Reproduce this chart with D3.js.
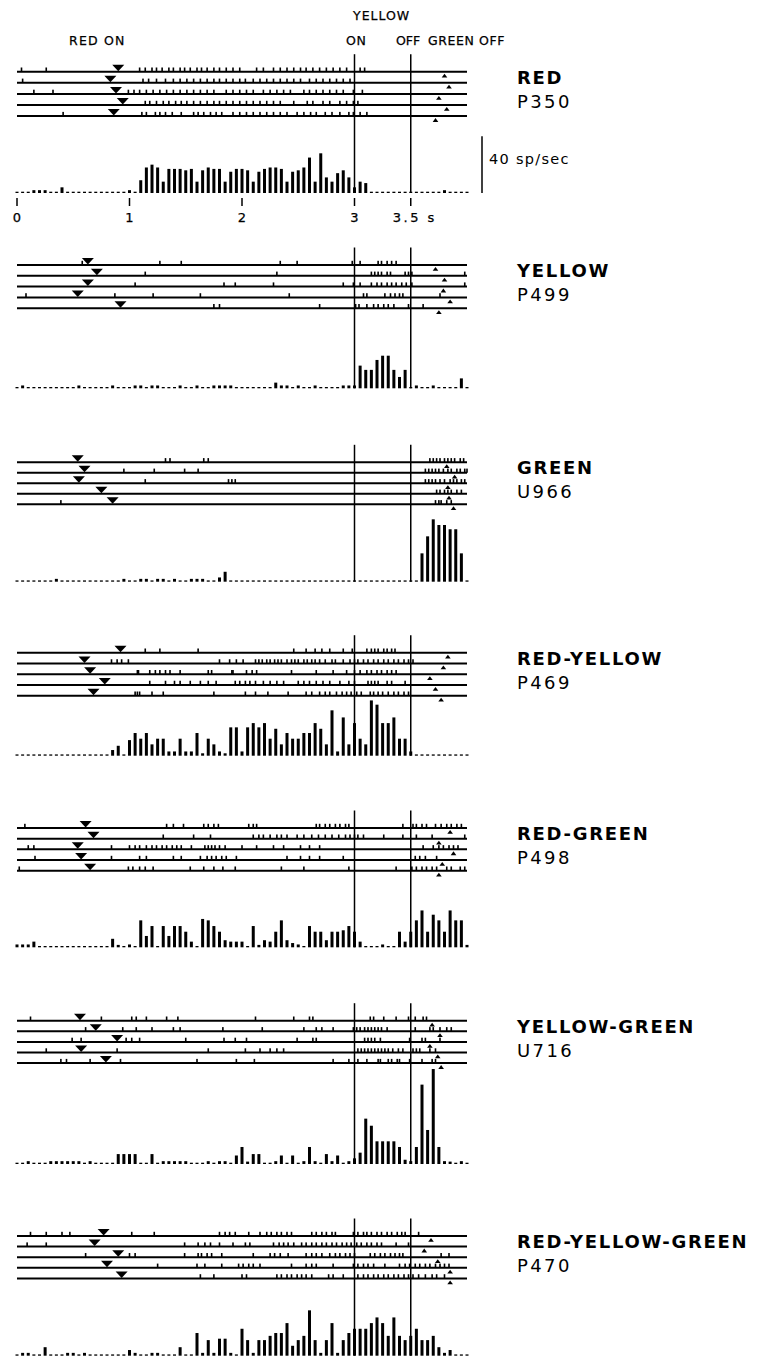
<!DOCTYPE html>
<html><head><meta charset="utf-8">
<script src="https://cdn.jsdelivr.net/npm/d3@7"></script>
<style>
body{margin:0;background:#fff}
svg{display:block}
text{font-family:"DejaVu Sans",sans-serif;fill:#000}
</style>
</head><body>
<svg id="c" width="770" height="1360"></svg>
<script>
// ---------------- DATA ----------------
const binWidth = 0.05;               // s
const tickValues = [0, 1, 2, 3, 3.5];
const tickLabels = ["0", "1", "2", "3", "3.5 s"];
const eventTimes = [3.0, 3.5];       // yellow on / off
const scaleBarValue = 40;            // sp/sec
const scaleBarLabel = "40 sp/sec";
const topLabels = ["RED ON", "YELLOW", "ON", "OFF", "GREEN OFF"];

const panelNames = ["RED", "YELLOW", "GREEN", "RED-YELLOW", "RED-GREEN", "YELLOW-GREEN", "RED-YELLOW-GREEN"];
const panelIds = ["P350", "P499", "U966", "P469", "P498", "U716", "P470"];

// trial onset markers (down triangles) and offset markers (up triangles), seconds
const onsetMarks = [
  [0.90, 0.83, 0.88, 0.94, 0.86],
  [0.63, 0.71, 0.63, 0.54, 0.92],
  [0.54, 0.60, 0.55, 0.75, 0.85],
  [0.92, 0.60, 0.65, 0.78, 0.68],
  [0.61, 0.68, 0.54, 0.57, 0.65],
  [0.56, 0.70, 0.89, 0.57, 0.79],
  [0.77, 0.69, 0.90, 0.80, 0.93]
];
const offsetMarks = [
  [3.80, 3.84, 3.75, 3.82, 3.72],
  [3.72, 3.80, 3.79, 3.85, 3.75],
  [3.82, 3.89, 3.83, 3.84, 3.88],
  [3.83, 3.79, 3.67, 3.72, 3.77],
  [3.85, 3.75, 3.88, 3.78, 3.75],
  [3.69, 3.76, 3.67, 3.74, 3.77],
  [3.68, 3.62, 3.74, 3.85, 3.85]
];

// spike times (s), 5 trials per panel
const spikesRed = [
  [0.04,0.26,1.09,1.14,1.20,1.24,1.29,1.35,1.39,1.45,1.49,1.54,1.60,1.64,1.69,1.75,1.80,1.86,1.92,1.98,2.13,2.19,2.28,2.34,2.40,2.46,2.52,2.57,2.63,2.69,2.75,2.81,2.87,2.93,3.05,3.09],
  [0.05,1.12,1.17,1.24,1.32,1.39,1.45,1.51,1.57,1.63,1.69,1.75,1.80,1.86,1.92,1.98,2.03,2.10,2.16,2.22,2.28,2.34,2.40,2.46,2.52,2.60,2.66,2.72,2.78,2.84,2.90,2.96],
  [0.15,0.32,0.99,1.04,1.09,1.15,1.21,1.27,1.33,1.39,1.45,1.51,1.57,1.63,1.69,1.75,1.86,1.92,1.98,2.04,2.10,2.19,2.25,2.31,2.37,2.43,2.55,2.60,2.66,2.72,2.78,2.84,2.90,2.99,3.07],
  [1.14,1.18,1.24,1.30,1.35,1.41,1.46,1.51,1.57,1.63,1.69,1.75,1.80,1.86,1.92,1.98,2.04,2.10,2.16,2.22,2.28,2.34,2.46,2.58,2.63,2.72,2.78,2.87,2.93,2.99,3.03],
  [0.41,1.11,1.15,1.23,1.27,1.32,1.38,1.46,1.57,1.61,1.66,1.72,1.77,1.82,1.92,1.98,2.04,2.10,2.16,2.22,2.28,2.34,2.40,2.49,2.55,2.61,2.66,2.74,2.80,2.87,2.95,2.99,3.05,3.11]
];
const spikesYellow = [
  [0.58,1.27,1.46,2.34,2.49,2.98,3.05,3.21,3.24,3.29,3.33,3.37],
  [1.14,2.31,3.15,3.18,3.21,3.24,3.29,3.32,3.45,3.48,3.51,3.98],
  [1.05,1.84,1.94,2.28,2.90,2.99,3.05,3.15,3.20,3.24,3.29,3.33,3.37,3.42,3.46,3.51,3.98],
  [0.08,0.87,1.21,1.63,2.42,3.08,3.11,3.27,3.32,3.36,3.40,3.43,3.76],
  [1.75,1.80,2.69,3.01,3.04,3.11,3.17,3.21,3.26,3.30,3.35,3.48,3.61]
];
const spikesGreen = [
  [1.32,1.36,1.66,1.70,3.67,3.70,3.73,3.76,3.80,3.83,3.86,3.89,3.94,3.97],
  [0.95,1.22,1.49,1.61,3.63,3.66,3.69,3.72,3.75,3.79,3.83,3.86,3.91,3.94,3.98,4.00],
  [1.14,1.88,1.91,1.94,3.63,3.66,3.69,3.72,3.76,3.80,3.85,3.88,3.91,3.95,3.98],
  [3.73,3.76,3.80,3.83,3.86,3.91,3.95],
  [0.39,3.72,3.75,3.77,3.82,3.86]
];
const spikesRedYellow = [
  [1.14,1.27,1.61,2.46,2.57,2.65,2.71,2.78,2.90,2.98,3.11,3.15,3.18,3.21,3.26,3.29,3.33,3.36],
  [0.84,0.89,0.93,0.99,1.80,1.89,1.95,2.01,2.12,2.15,2.18,2.22,2.25,2.29,2.32,2.35,2.40,2.44,2.47,2.50,2.55,2.58,2.62,2.65,2.69,2.74,2.80,2.83,2.90,2.96,3.00,3.03,3.08,3.12,3.17,3.21,3.26,3.30,3.35,3.39,3.44,3.48,3.52],
  [1.07,1.08,1.18,1.23,1.27,1.32,1.36,1.45,1.70,1.73,1.91,1.92,2.04,2.09,2.13,2.44,2.66,2.81,2.93,3.00,3.05,3.11,3.15,3.20,3.24,3.29,3.33,3.37],
  [1.18,1.32,1.40,1.45,1.54,1.63,1.70,1.77,1.94,1.98,2.03,2.07,2.12,2.19,2.25,2.31,2.37,2.50,2.55,2.60,2.66,2.72,2.78,2.87,2.95,3.00,3.12,3.15,3.18,3.21,3.29,3.33,3.45],
  [1.05,1.07,1.09,1.20,1.30,1.75,2.03,2.12,2.23,2.41,2.57,2.62,2.69,2.74,2.78,2.84,2.89,2.93,2.97,3.02,3.06,3.14,3.17,3.21,3.25,3.30,3.35,3.39,3.44,3.48]
];
const spikesRedGreen = [
  [0.07,1.33,1.39,1.48,1.66,1.70,1.75,1.79,2.06,2.10,2.13,2.66,2.69,2.74,2.78,2.83,2.87,2.92,2.95,3.43,3.52,3.55,3.60,3.64,3.72,3.77,3.82,3.86,3.91,3.95],
  [1.30,1.57,1.72,2.10,2.15,2.19,2.25,2.31,2.35,2.40,2.49,2.55,2.62,2.68,2.74,2.80,2.86,2.92,2.96,3.00,3.03,3.08,3.26,3.43,3.55,3.69,3.98],
  [0.10,0.15,0.84,1.00,1.05,1.09,1.15,1.20,1.24,1.29,1.33,1.38,1.42,1.46,1.55,1.67,1.70,1.73,1.76,1.80,1.85,2.00,2.13,2.28,2.37,2.52,2.60,2.69,3.61,3.70,3.75,3.79,3.84,3.88,3.92],
  [0.16,0.84,1.09,1.15,1.39,1.46,1.63,1.69,1.73,1.77,1.82,1.86,1.95,2.40,2.52,2.60,2.69,2.90,3.54,3.58,3.63,3.73],
  [0.02,0.99,1.03,1.09,1.14,1.21,1.54,1.66,1.75,1.83,1.94,2.35,2.55,2.95,3.37,3.51,3.55,3.60,3.64,3.69,3.73,3.82,3.86,3.94,3.98]
];
const spikesYellowGreen = [
  [0.12,0.75,1.02,1.06,1.15,1.33,1.43,2.12,2.46,2.60,2.63,3.14,3.17,3.26,3.37,3.48,3.54,3.61,3.64],
  [0.61,0.94,1.06,1.20,1.39,1.45,1.83,2.18,2.55,2.66,2.71,2.81,2.99,3.02,3.05,3.09,3.12,3.15,3.18,3.21,3.24,3.29,3.54,3.67,3.70,3.76,3.82,3.86],
  [0.49,0.57,0.97,1.02,1.09,1.50,1.84,1.94,2.04,2.49,2.63,2.66,3.09,3.12,3.15,3.18,3.23,3.49,3.60,3.63,3.76],
  [0.26,0.89,1.70,2.03,2.16,2.25,2.31,2.37,3.03,3.06,3.09,3.12,3.15,3.18,3.21,3.24,3.27,3.30,3.34,3.39,3.43,3.52,3.55,3.58,3.67,3.72],
  [0.39,0.44,0.65,0.92,1.60,1.95,2.11,2.81,2.95,3.03,3.11,3.21,3.23,3.30,3.33,3.38,3.40,3.49,3.60,3.69,3.72]
];
const spikesRedYellowGreen = [
  [0.12,0.26,0.40,0.47,1.02,1.22,1.80,1.85,1.89,1.94,2.06,2.16,2.22,2.26,2.31,2.35,2.40,2.44,2.62,2.66,2.71,2.75,2.80,2.83,2.99,3.03,3.08,3.11,3.15,3.20,3.24,3.29,3.33,3.38,3.42,3.45,3.57],
  [0.09,0.26,1.49,1.61,1.67,1.72,1.80,1.92,2.03,2.07,2.28,2.33,2.37,2.41,2.46,2.53,2.57,2.62,2.66,2.71,2.75,2.80,2.84,2.89,2.93,2.97,3.02,3.06,3.11,3.15,3.20,3.24,3.37,3.48],
  [0.61,1.00,1.05,1.49,1.61,1.64,1.69,1.73,1.82,2.10,2.25,2.29,2.34,2.41,2.57,2.62,2.66,2.71,2.78,2.83,2.87,2.92,2.96,3.00,3.14,3.18,3.23,3.27,3.32,3.36,3.40,3.43,3.77,3.84],
  [1.25,1.60,1.67,1.82,1.97,2.01,2.06,2.10,2.16,2.44,2.57,2.62,2.66,2.81,2.99,3.03,3.08,3.12,3.17,3.27,3.40,3.45,3.49,3.54,3.58,3.63,3.67,3.72,3.76,3.80,3.84],
  [1.63,1.75,2.00,2.04,2.31,2.35,2.40,2.44,2.49,2.53,2.57,2.62,2.77,2.81,2.90,3.03,3.08,3.12,3.17,3.21,3.26,3.30,3.35,3.39,3.44,3.48,3.52,3.57,3.63,3.69,3.73,3.80]
];

// peri-stimulus histograms, sp/sec, bins centred at 0, 0.05, ... 4.0 s
const histRed = [0,0,0,2,2,2,0,0,4,0, 0,0,0,0,0,0,0,0,0,0, 2,0,9,18,20,18,8,17,17,17, 16,17,8,16,18,17,17,8,15,17, 17,16,8,15,17,18,18,17,8,15, 16,18,25,8,28,11,8,14,16,11, 4,8,7,0,0,0,0,0,0,0, 0,0,0,0,0,0,2,0,0,0, 0];
const histYellow = [0,2,0,0,0,0,0,0,0,0, 0,2,0,0,0,0,0,2,0,0, 0,2,2,0,2,2,0,0,0,2, 0,0,2,0,0,2,2,2,2,0, 0,0,0,0,0,0,4,2,2,0, 2,0,0,2,0,0,0,0,2,2, 2,16,13,13,20,23,23,13,8,13, 0,2,0,0,2,0,0,0,0,7, 0];
const histGreen = [0,0,0,0,0,0,0,2,0,0, 0,0,0,0,0,0,0,0,0,2, 0,0,2,2,0,2,2,0,2,0, 0,2,2,2,0,0,3,7,0,0, 0,0,0,0,0,0,0,0,0,0, 0,0,0,0,0,0,0,0,0,0, 0,0,0,0,0,0,0,0,0,0, 0,0,20,32,44,40,40,37,37,20, 0];
const histRedYellow = [0,0,0,0,0,0,0,0,0,0, 0,0,0,0,0,0,0,4,7,0, 11,16,12,16,8,12,12,3,3,12, 3,3,16,1.5,12,8,3,1.5,20,20, 3,20,23,20,23,12,19,8,16,12, 12,16,16,23,19,8,32,3,27,8, 23,12,8,39,36,23,23,27,12,12, 3,0,0,0,0,0,0,0,0,0, 0];
const histRedGreen = [2,2,2,4,0,0,0,0,0,0, 0,0,0,0,0,0,0,6,1.5,0, 2,0,19,8,15,0,15,8,15,15, 11,4,0,20,19,15,11,5,4,4, 4,0,15,1.5,5,4,11,19,5,3, 2,0,15,11,11,5,11,11,12,15, 11,4,0,0,0,2,0,0,11,4, 11,19,26,11,23,19,11,26,19,19, 1];
const histYellowGreen = [0,0,2,0,0,0,2,2,2,2, 2,2,0,2,0,0,0,0,7,7, 7,7,0,0,7,0,2,2,2,2, 2,0,0,0,2,0,2,2,0,6, 12,1,7,7,0,0,2,6,0,6, 0,2,12,2,0,7,2,6,0,2, 4,8,32,27,16,16,16,16,12,3, 2,12,56,24,67,12,2,1.5,0,2, 0];
const histRedYellowGreen = [0,2,2,0,0,6,0,0,0,2, 2,0,2,0,0,0,0,0,0,0, 4,2,0,0,2,2,0,0,0,6, 0,0,16,2,11,2,12,12,2,0, 19,11,2,11,11,14,16,16,23,7, 11,14,32,11,2,11,23,2,11,16, 19,19,19,23,27,23,14,27,14,11, 14,19,11,11,14,6,2,4,0,0, 0];

const spikeSets = [spikesRed, spikesYellow, spikesGreen, spikesRedYellow, spikesRedGreen, spikesYellowGreen, spikesRedYellowGreen];
const histSets = [histRed, histYellow, histGreen, histRedYellow, histRedGreen, histYellowGreen, histRedYellowGreen];

// ---------------- LAYOUT ----------------
const lineY0 = [71.7, 265, 462.3, 652.7, 828, 1020.7, 1236];
const lineGap = [11.1, 10.8, 10.5, 10.75, 10.67, 10.6, 10.6];
const baseY = [193, 388.3, 581.7, 755.7, 947.3, 1164, 1355.7];
const barPx40 = 56.7;

const svg = d3.select("#c");
const x = d3.scaleLinear().domain([0, 4]).range([17, 467]);

// top event labels
const topLab = svg.append("g").attr("font-size", 12.5).attr("letter-spacing", 0.7)
  .attr("stroke", "#000").attr("stroke-width", 0.25);
topLab.append("text").attr("x", 69).attr("y", 45).attr("letter-spacing", 1.2).text(topLabels[0]);
topLab.append("text").attr("x", 353).attr("y", 20).attr("letter-spacing", 1).text(topLabels[1]);
topLab.append("text").attr("x", 346).attr("y", 45).text(topLabels[2]);
topLab.append("text").attr("x", 396).attr("y", 45).attr("letter-spacing", 0).text(topLabels[3]);
topLab.append("text").attr("x", 428).attr("y", 45).attr("letter-spacing", 0.6).text(topLabels[4]);

panelNames.forEach((name, p) => {
  const g = svg.append("g");
  const spikes = spikeSets[p];
  const hist = histSets[p];
  const ly = k => lineY0[p] + k * lineGap[p];
  const y = d3.scaleLinear().domain([0, scaleBarValue]).range([baseY[p], baseY[p] - barPx40]);

  // event lines
  eventTimes.forEach(t => {
    g.append("line")
      .attr("x1", x(t)).attr("x2", x(t))
      .attr("y1", lineY0[p] - 17.5).attr("y2", baseY[p])
      .attr("stroke", "#000").attr("stroke-width", 1.5);
  });

  // raster lines
  spikes.forEach((trial, k) => {
    g.append("line")
      .attr("x1", x(0)).attr("x2", x(4))
      .attr("y1", ly(k)).attr("y2", ly(k))
      .attr("stroke", "#000").attr("stroke-width", 2);
    g.selectAll(null).data(trial).enter().append("rect")
      .attr("x", d => x(d) - 0.8).attr("width", 1.6)
      .attr("y", ly(k) - 4.2).attr("height", 4.2)
      .attr("fill", "#000");
  });

  // onset (down) triangles
  g.selectAll(null).data(onsetMarks[p]).enter().append("path")
    .attr("d", (d, k) => {
      const cx = x(d), cy = ly(k) - 0.5;
      return `M${cx - 6},${cy - 6.5}L${cx + 6},${cy - 6.5}L${cx},${cy}Z`;
    })
    .attr("fill", "#000");

  // offset (up) triangles
  g.selectAll(null).data(offsetMarks[p]).enter().append("path")
    .attr("d", (d, k) => {
      const cx = x(d), cy = ly(k) + 2;
      return `M${cx},${cy}L${cx + 2.8},${cy + 3.8}L${cx - 2.8},${cy + 3.8}Z`;
    })
    .attr("fill", "#000");

  // histogram
  g.selectAll(null).data(hist).enter().append("rect")
    .attr("x", (d, j) => x(j * binWidth) - 1.5)
    .attr("width", 3)
    .attr("y", d => d > 0 ? Math.min(y(d), baseY[p] - 2.4) : baseY[p] - 1.3)
    .attr("height", d => d > 0 ? Math.max(baseY[p] - y(d), 2.4) : 1.3)
    .attr("fill", "#000");

  // labels
  g.append("text").attr("x", 517).attr("y", lineY0[p] + 12)
    .attr("font-size", 18).attr("font-weight", "bold").attr("letter-spacing", 1.7)
    .text(name);
  g.append("text").attr("x", 517).attr("y", lineY0[p] + 36)
    .attr("font-size", 18).attr("letter-spacing", 2.4)
    .text(panelIds[p]);
});

// axis (top panel only)
const ax = svg.append("g");
ax.selectAll(null).data(tickValues).enter().append("line")
  .attr("x1", d => x(d)).attr("x2", d => x(d))
  .attr("y1", 198).attr("y2", 206)
  .attr("stroke", "#000").attr("stroke-width", 1.5);
ax.selectAll(null).data(tickValues).enter().append("text")
  .attr("x", (d, i) => i === tickValues.length - 1 ? x(d) - 18 : x(d))
  .attr("y", 222)
  .attr("text-anchor", (d, i) => i === tickValues.length - 1 ? "start" : "middle")
  .attr("font-size", 13)
  .attr("stroke", "#000").attr("stroke-width", 0.25)
  .attr("letter-spacing", (d, i) => i === tickValues.length - 1 ? 2.5 : 0)
  .text((d, i) => tickLabels[i]);

// scale bar
const ys = d3.scaleLinear().domain([0, scaleBarValue]).range([baseY[0], baseY[0] - barPx40]);
svg.append("line")
  .attr("x1", 482).attr("x2", 482)
  .attr("y1", ys(0)).attr("y2", ys(scaleBarValue))
  .attr("stroke", "#000").attr("stroke-width", 1.5);
svg.append("text").attr("x", 489).attr("y", 164)
  .attr("font-size", 14.5).attr("letter-spacing", 1.3)
  .text(scaleBarLabel);
</script>
</body></html>
